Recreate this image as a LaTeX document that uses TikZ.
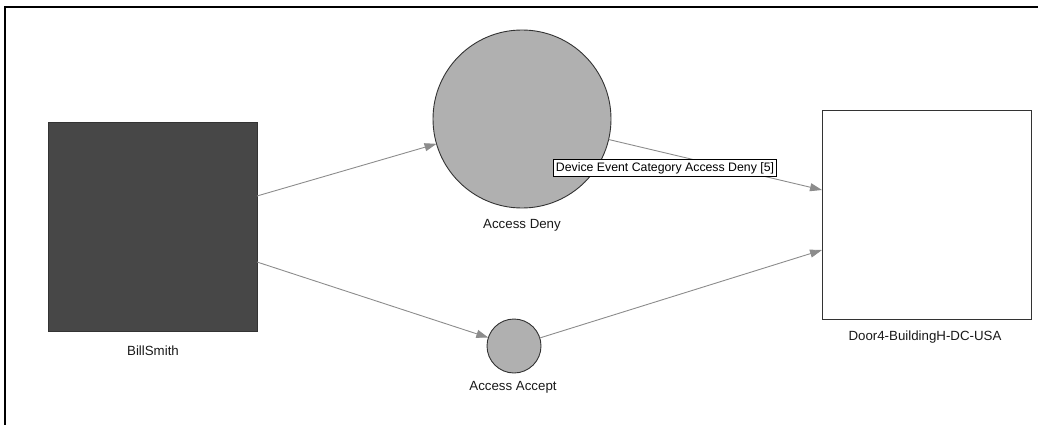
\documentclass[tikz,border=0pt]{standalone}
\usepackage{fontspec}
\setmainfont{Liberation Sans}
\usetikzlibrary{arrows.meta}
\begin{document}
\begin{tikzpicture}[x=1pt,y=1pt,
  every node/.style={inner sep=0pt,outer sep=0pt},
  entity/.style={draw=black!80,line width=0.9pt,minimum size=209pt},
  event/.style={circle,draw=black!80,line width=0.9pt,fill=black!31},
  caption/.style={font=\fontsize{13.3}{15}\selectfont,text=black!90},
  link/.style={draw=black!45,line width=0.9pt,-{Triangle[length=12pt,width=8pt]}},
  tag/.style={draw=black,fill=white,line width=0.7pt,inner xsep=2.5pt,inner ysep=2.5pt,font=\fontsize{12.3}{14}\selectfont}]
\useasboundingbox (0,0) rectangle (1038,424);
% outer frame (top and left edges only)
\draw[line width=1.6pt] (5,-5) -- (5,417) -- (1043,417);
% nodes
\node[entity,fill=black!72] (bill) at (152.5,197.5) {};
\node[entity,fill=white] (door) at (926.5,209.5) {};
\node[event,minimum size=178pt] (deny) at (522,305) {};
\node[event,minimum size=54pt] (accept) at (514,78) {};
% captions
\node[caption] (billlbl) at (153,73) {BillSmith};
\node[caption] (denylbl) at (522,199) {Access Deny};
\node[caption] (acceptlbl) at (513,37) {Access Accept};
\node[caption] (doorlbl) at (925,87) {Door4-BuildingH-DC-USA};
% connectors
\draw[link] ([yshift=30.5pt]bill.east) -- (deny);
\draw[link] ([yshift=-35.5pt]bill.east) -- (accept);
\draw[link] (deny) -- ([yshift=24.5pt]door.west);
\draw[link] (accept) -- ([yshift=-35.5pt]door.west);
% hover tag over the deny connector
\node[tag] (denytag) at (665,256) {Device Event Category Access Deny [5]};
\end{tikzpicture}
\end{document}
